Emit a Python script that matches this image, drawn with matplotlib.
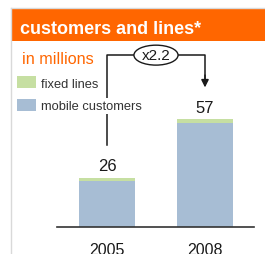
import matplotlib.pyplot as plt
from matplotlib.patches import Rectangle, Ellipse
from matplotlib.lines import Line2D

years = ['2005', '2008']
mobile = [24, 55]
fixed = [2, 2]
totals = [26, 57]
growth = 'x2.2'

orange = '#ff6600'
blue = '#a7bdd4'
green = '#c6dfa2'

plt.rcParams['font.family'] = ['Liberation Sans', 'DejaVu Sans']

W, H = 265, 255
fig = plt.figure(figsize=(W / 100, H / 100), dpi=100)

# frame + header (pixel coords via figure fractions)
def fx(px):
    return px / W

def fy(py):
    return 1 - py / H

fig.add_artist(Line2D([fx(10.5), 1], [fy(8.5), fy(8.5)], color='#d9d9d9', lw=1))
fig.add_artist(Line2D([fx(10.5), fx(10.5)], [fy(8.5), 0], color='#d9d9d9', lw=1))
fig.add_artist(Rectangle((fx(11), fy(42)), 1 - fx(11), (42 - 9.5) / H,
                         facecolor=orange, edgecolor='none'))
fig.text(fx(20), fy(34), 'customers and lines*', color='white', fontsize=13,
         weight='bold', va='baseline', ha='left')
fig.text(fx(22.5), fy(64), 'in millions', color=orange, fontsize=11.6,
         va='baseline', ha='left')

ax = fig.add_axes([57 / W, 27 / H, 197 / W, 188 / H])
ax.set_xlim(-0.51, 1.5)
ax.set_ylim(0, 99)

x = range(len(years))
b1 = ax.bar(x, mobile, width=0.57, color=blue, label='mobile customers')
b2 = ax.bar(x, fixed, width=0.57, bottom=mobile, color=green, label='fixed lines')

for i, t in enumerate(totals):
    ax.annotate(str(t), (i, mobile[i] + fixed[i]), xytext=(0, 3),
                textcoords='offset points', ha='center', va='bottom',
                fontsize=12, color='#1a1a1a')

ax.set_xticks(list(x))
ax.set_xticklabels(years, fontsize=11.5, color='#1a1a1a')
ax.tick_params(axis='x', length=0, pad=10.5)
ax.set_yticks([])
for s in ['top', 'left', 'right']:
    ax.spines[s].set_visible(False)
ax.spines['bottom'].set_color('#333333')
ax.spines['bottom'].set_linewidth(1.2)
ax.patch.set_alpha(0)

# growth bracket
ax.plot([0, 0, 1, 1], [43, 90.5, 90.5, 78], color='#1a1a1a', lw=1.1,
        clip_on=False, zorder=3)
ax.annotate('', xy=(1, 73.5), xytext=(1, 80),
            arrowprops=dict(arrowstyle='-|>', color='#1a1a1a', lw=1.1,
                            mutation_scale=11, shrinkA=0, shrinkB=0),
            annotation_clip=False)
ax.add_patch(Ellipse((0.5, 90.5), 0.45, 10.5, facecolor='white',
                     edgecolor='#1a1a1a', lw=1.0, clip_on=False, zorder=4))
ax.text(0.5, 90.5, growth, ha='center', va='center', fontsize=11,
        color='#1a1a1a', zorder=5)

leg = ax.legend(handles=[b2, b1], loc='upper left', bbox_to_anchor=(fx(17), fy(77)),
                bbox_transform=fig.transFigure, frameon=False, fontsize=9.3,
                handlelength=1.47, handleheight=1.1, handletextpad=0.4,
                labelspacing=0.7, borderpad=0, borderaxespad=0, labelcolor='#333333')
leg.set_zorder(6)
for t in leg.get_texts():
    t.set_bbox(dict(facecolor='white', edgecolor='none', pad=1.5))

fig.savefig('out.png', dpi=100)
